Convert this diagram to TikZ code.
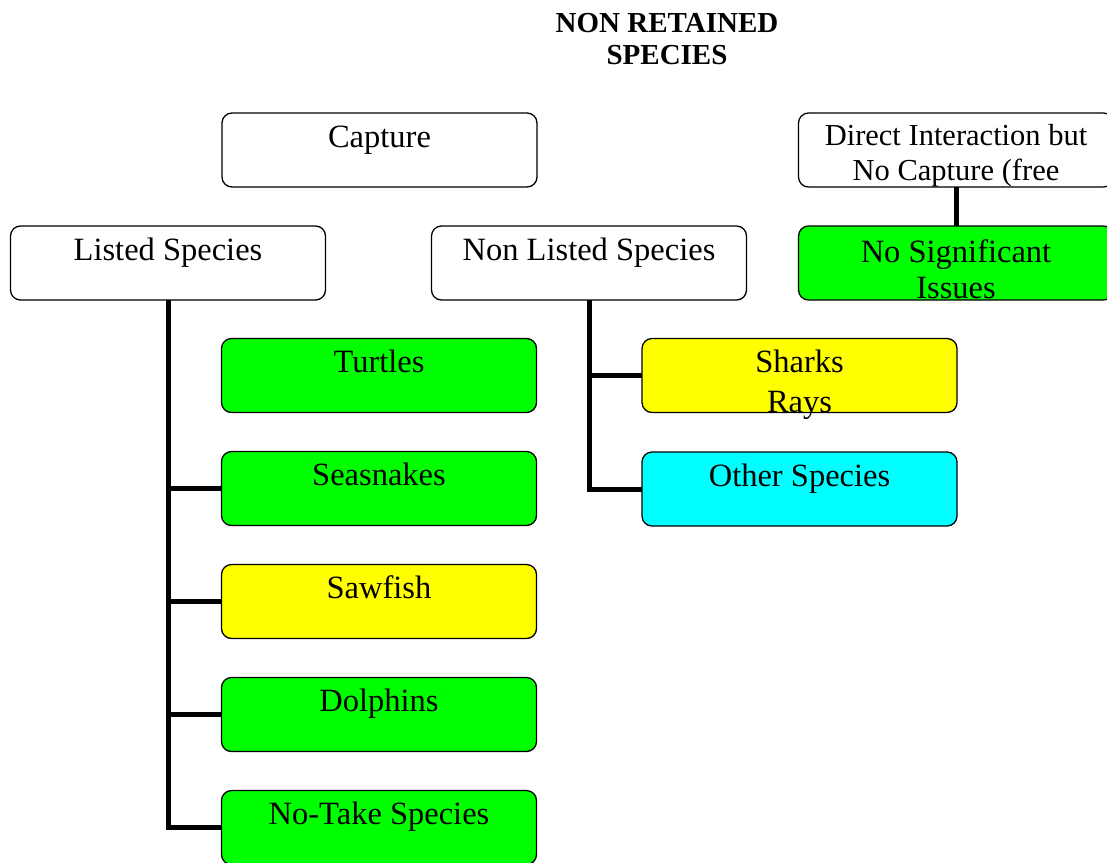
\documentclass[tikz,border=0pt]{standalone}
\usepackage{fontspec}
\setmainfont{Liberation Serif}
\begin{document}
\begin{tikzpicture}[x=1pt,y=-1pt,
  box/.style={draw=black, line width=1.3pt, rounded corners=10pt,
    minimum width=315pt, minimum height=74pt, inner sep=0pt, outer sep=0pt},
  lbl/.style={anchor=base, inner sep=0pt, font=\fontsize{32.5}{38}\selectfont},
  lbls/.style={anchor=base, inner sep=0pt, font=\fontsize{30.5}{35}\selectfont},
  link/.style={line width=5pt, draw=black},
  title/.style={anchor=base, inner sep=0pt, font=\fontsize{29}{32}\selectfont\bfseries}]
\definecolor{okgreen}{HTML}{00FF00}
\definecolor{warnyellow}{HTML}{FFFF00}
\definecolor{infocyan}{HTML}{00FFFF}

\useasboundingbox (0,0) rectangle (1107,862);
\clip (0,0) rectangle (1107,862);

% heading
\node[title] (t1) at (667,32) {NON RETAINED};
\node[title] (t2) at (667,64) {SPECIES};

% top level
\node[box, fill=white] (capture) at (379.5,150) {};
\node[lbl] (captxt) at ([yshift=-34pt]capture.north) {Capture};

\node[box, fill=white] (direct) at (956,150) {};
\node[lbls] (directt1) at ([yshift=-32pt]direct.north) {Direct Interaction but};
\node[lbls] (directt2) at ([yshift=-67pt]direct.north) {No Capture (free};

% second level
\node[box, fill=white] (listed) at (168,263) {};
\node[lbl] (listedt) at ([yshift=-34pt]listed.north) {Listed Species};

\node[box, fill=white] (nonlisted) at (589,263) {};
\node[lbl] (nonlistedt) at ([yshift=-34pt]nonlisted.north) {Non Listed Species};

\node[box, fill=okgreen] (nosig) at (956,263) {};
\node[lbl] (nosigt1) at ([yshift=-36pt]nosig.north) {No Significant};
\node[lbl] (nosigt2) at ([yshift=-72pt]nosig.north) {Issues};

% connectors
\draw[link] (direct.south) -- (nosig.north);

% listed species branch
\node[box, fill=okgreen] (turtles) at (379,375.5) {};
\node[box, fill=okgreen] (seasnakes) at (379,488.5) {};
\node[box, fill=warnyellow] (sawfish) at (379,601.5) {};
\node[box, fill=okgreen] (dolphins) at (379,714.5) {};
\node[box, fill=okgreen] (notake) at (379,827.5) {};

\draw[link] (listed.south) |- (notake.west);
\draw[link] (listed.south) |- (seasnakes.west);
\draw[link] (listed.south) |- (sawfish.west);
\draw[link] (listed.south) |- (dolphins.west);

\node[lbl] (turtlest) at ([yshift=-34pt]turtles.north) {Turtles};
\node[lbl] (seasnakest) at ([yshift=-34pt]seasnakes.north) {Seasnakes};
\node[lbl] (sawfisht) at ([yshift=-34pt]sawfish.north) {Sawfish};
\node[lbl] (dolphinst) at ([yshift=-34pt]dolphins.north) {Dolphins};
\node[lbl] (notaket) at ([yshift=-34pt]notake.north) {No-Take Species};

% non listed species branch
\node[box, fill=warnyellow] (sharks) at (799.5,375.5) {};
\node[box, fill=infocyan] (other) at (799.5,489) {};

\draw[link] (nonlisted.south) |- (sharks.west);
\draw[link] (nonlisted.south) |- (other.west);

\node[lbl] (sharkst1) at ([yshift=-34pt]sharks.north) {Sharks};
\node[lbl] (sharkst2) at ([yshift=-74pt]sharks.north) {Rays};
\node[lbl] (othert) at ([yshift=-34pt]other.north) {Other Species};
\end{tikzpicture}
\end{document}
